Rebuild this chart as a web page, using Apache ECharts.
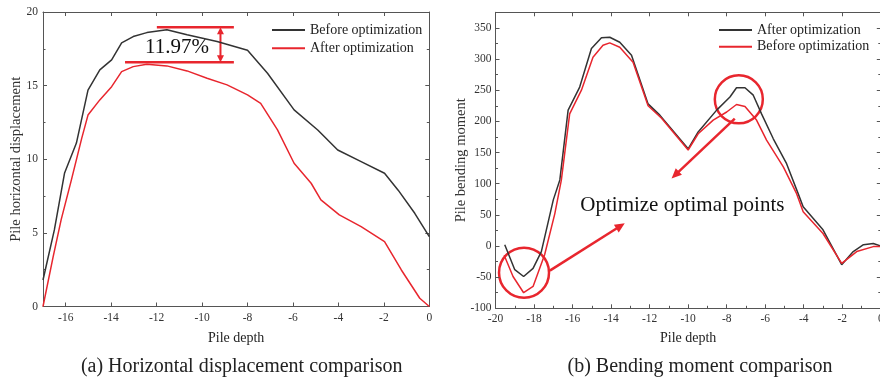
<!DOCTYPE html>
<html>
<head>
<meta charset="utf-8">
<script src="https://cdn.jsdelivr.net/npm/echarts@6/dist/echarts.min.js"></script>
<style>
html, body { margin: 0; padding: 0; background: #fff; }
#chartA { position: absolute; left: 0; top: 0; width: 440px; height: 381px; }
#chartB { position: absolute; left: 440px; top: 0; width: 440px; height: 381px; }
</style>
</head>
<body>
<div id="chartA"></div>
<div id="chartB"></div>
<script>
// (a) horizontal displacement
var depthBeforeA = [-17, -16.5, -16.05, -15.53, -15.02, -14.5, -13.98, -13.54, -13.03, -12.43, -11.55, -10.66, -9.34, -8.0, -7.12, -5.95, -4.91, -4.03, -3.0, -1.97, -1.37, -0.64, 0];
var dispBeforeA = [1.8, 5.2, 9.07, 11.1, 14.7, 16.07, 16.75, 17.9, 18.33, 18.6, 18.8, 18.45, 18.0, 17.4, 15.84, 13.35, 11.99, 10.63, 9.84, 9.05, 7.9, 6.33, 4.74];
var depthAfterA = [-17, -16.55, -16.2, -15.75, -15.3, -15.02, -14.5, -13.98, -13.54, -13.03, -12.43, -11.55, -10.66, -9.78, -8.9, -8.0, -7.42, -6.68, -5.95, -5.2, -4.77, -3.96, -3.0, -1.97, -1.23, -0.42, 0];
var dispAfterA = [0, 3.4, 5.9, 8.6, 11.4, 13.0, 14.03, 14.93, 15.95, 16.29, 16.45, 16.34, 16.0, 15.5, 15.05, 14.37, 13.8, 12.0, 9.73, 8.37, 7.24, 6.22, 5.42, 4.4, 2.48, 0.56, 0];
var xTicksA = [-16, -14, -12, -10, -8, -6, -4, -2, 0];

// (b) bending moment
var depthAfterB = [-19.52, -19.0, -18.54, -18.05, -17.62, -17.0, -16.66, -16.23, -15.63, -15.02, -14.5, -14.07, -13.55, -12.94, -12.08, -11.47, -10.0, -9.48, -8.52, -7.83, -7.49, -7.05, -6.62, -6.19, -5.58, -4.89, -4.29, -4.03, -3.0, -2.03, -1.43, -0.9, -0.39, 0];
var momentAfterB = [2, -38, -49, -36, -9, 74, 106, 218, 255, 317, 334, 335, 327, 306, 228, 210, 156, 183, 218, 239, 254, 254, 242, 212, 172, 132, 84, 63, 26, -30, -9, 2, 4, 0];
var depthBeforeB = [-19.55, -19.09, -18.54, -18.05, -17.45, -16.92, -16.58, -16.15, -15.54, -14.94, -14.42, -14.07, -13.55, -12.86, -12.08, -11.38, -10.0, -9.48, -8.7, -8.0, -7.49, -7.05, -6.45, -5.93, -5.06, -4.37, -4.03, -3.0, -2.03, -1.25, -0.39, 0];
var momentBeforeB = [-15, -49, -75, -65, -14, 52, 106, 212, 250, 303, 322, 326, 319, 295, 225, 205, 154, 180, 202, 215, 227, 224, 202, 170, 127, 84, 55, 20, -28, -9, -1, -1];

var SERIF = 'Liberation Serif';
var BLACK = '#333333';
var RED = '#e8262e';
var AXIS = '#555555';

function zip(xs, ys) {
  var out = [];
  for (var i = 0; i < xs.length; i++) out.push([xs[i], ys[i]]);
  return out;
}

function frameAxis(extra) {
  var base = {
    axisLine: { show: true, onZero: false, lineStyle: { color: AXIS, width: 1 } },
    axisTick: { show: true, inside: true, length: 4, lineStyle: { color: AXIS } },
    minorTick: { show: false },
    splitLine: { show: false },
    axisLabel: { show: false }
  };
  return Object.assign(base, extra);
}

var labelStyle = { show: true, fontFamily: SERIF, fontSize: 11.5, color: '#333' };

// arrow head polygon from p0 to p1 (pixels)
function arrowHead(p0, p1, len, half) {
  var dx = p1[0] - p0[0], dy = p1[1] - p0[1];
  var d = Math.sqrt(dx * dx + dy * dy);
  var ux = dx / d, uy = dy / d;
  var bx = p1[0] - ux * len, by = p1[1] - uy * len;
  return [[p1[0], p1[1]], [bx - uy * half, by + ux * half], [bx + uy * half, by - ux * half]];
}

// ---------- chart (a) ----------
var chartA = echarts.init(document.getElementById('chartA'));
chartA.setOption({
  animation: false,
  grid: { left: 43, right: 10.7, top: 12, bottom: 74.5, containLabel: false, outerBoundsMode: 'none' },
  legend: {
    orient: 'vertical', left: 267, top: 18, icon: 'rect', itemWidth: 33, itemHeight: 2, itemGap: 4.3,
    textStyle: { fontFamily: SERIF, fontSize: 14, color: '#222', lineHeight: 14 },
    data: ['Before optimization', 'After optimization']
  },
  xAxis: [
    frameAxis({
      type: 'value', position: 'bottom', min: -17, max: 0,
      axisTick: { show: true, inside: true, length: 4, lineStyle: { color: AXIS }, customValues: xTicksA },
      axisLabel: Object.assign({ margin: 5, customValues: xTicksA }, labelStyle),
      name: 'Pile depth', nameLocation: 'middle', nameGap: 25,
      nameTextStyle: { fontFamily: SERIF, fontSize: 14, color: '#222' }
    }),
    frameAxis({
      type: 'value', position: 'top', min: -17, max: 0,
      axisTick: { show: true, inside: true, length: 4, lineStyle: { color: AXIS }, customValues: xTicksA }
    })
  ],
  yAxis: [
    frameAxis({
      type: 'value', position: 'left', min: 0, max: 20, interval: 5,
      minorTick: { show: true, splitNumber: 2, length: 2.5, lineStyle: { color: AXIS } },
      axisLabel: Object.assign({ margin: 5 }, labelStyle),
      name: 'Pile horizontal displacement', nameLocation: 'middle', nameGap: 19, nameMoveOverlap: false,
      nameTextStyle: { fontFamily: SERIF, fontSize: 14.5, color: '#333' }
    }),
    frameAxis({
      type: 'value', position: 'right', min: 0, max: 20, interval: 5,
      minorTick: { show: true, splitNumber: 2, length: 2.5, lineStyle: { color: AXIS } }
    })
  ],
  series: [
    { name: 'Before optimization', type: 'line', symbol: 'none', color: BLACK, lineStyle: { width: 1.5 }, data: zip(depthBeforeA, dispBeforeA) },
    { name: 'After optimization', type: 'line', symbol: 'none', color: RED, lineStyle: { width: 1.5 }, data: zip(depthAfterA, dispAfterA) }
  ]
});

// ---------- chart (b) ----------
var chartB = echarts.init(document.getElementById('chartB'));
chartB.setOption({
  animation: false,
  grid: { left: 55.5, right: -0.8, top: 12.3, bottom: 72.7, containLabel: false, outerBoundsMode: 'none' },
  legend: {
    orient: 'vertical', left: 274, top: 18, icon: 'rect', itemWidth: 33, itemHeight: 2, itemGap: 2.7,
    textStyle: { fontFamily: SERIF, fontSize: 14, color: '#222', lineHeight: 14 },
    data: ['After optimization', 'Before optimization']
  },
  xAxis: [
    frameAxis({
      type: 'value', position: 'bottom', min: -20, max: 0, interval: 2,
      minorTick: { show: true, splitNumber: 2, length: 2.5, lineStyle: { color: AXIS } },
      axisLabel: Object.assign({ margin: 5 }, labelStyle),
      name: 'Pile depth', nameLocation: 'middle', nameGap: 23.5,
      nameTextStyle: { fontFamily: SERIF, fontSize: 14, color: '#222' }
    }),
    frameAxis({ type: 'value', position: 'top', min: -20, max: 0, interval: 2 })
  ],
  yAxis: [
    frameAxis({
      type: 'value', position: 'left', min: -100, max: 375, interval: 50,
      minorTick: { show: true, splitNumber: 2, length: 2.5, lineStyle: { color: AXIS } },
      axisLabel: Object.assign({ margin: 4, showMaxLabel: false }, labelStyle),
      name: 'Pile bending moment', nameLocation: 'middle', nameGap: 27, nameMoveOverlap: false,
      nameTextStyle: { fontFamily: SERIF, fontSize: 14.5, color: '#333' }
    }),
    frameAxis({
      type: 'value', position: 'right', min: -100, max: 375, interval: 50,
      minorTick: { show: true, splitNumber: 2, length: 2.5, lineStyle: { color: AXIS } }
    })
  ],
  series: [
    { name: 'After optimization', type: 'line', symbol: 'none', color: BLACK, lineStyle: { width: 1.5 }, data: zip(depthAfterB, momentAfterB) },
    { name: 'Before optimization', type: 'line', symbol: 'none', color: RED, lineStyle: { width: 1.5 }, data: zip(depthBeforeB, momentBeforeB) }
  ]
});

// ---------- annotations (given in data units, placed via the axes) ----------
function px(chart, p) { return chart.convertToPixel({ gridIndex: 0 }, p); }

var gapTopA = [[-11.99, 18.97], [-8.6, 18.97]];
var gapBottomA = [[-13.39, 16.59], [-8.6, 16.59]];
var gapArrowA = [[-9.19, 18.97], [-9.19, 16.59]];
var gapLabelA = [-11.1, 17.6];

var t0 = px(chartA, gapTopA[0]), t1 = px(chartA, gapTopA[1]);
var b0 = px(chartA, gapBottomA[0]), b1 = px(chartA, gapBottomA[1]);
var a0 = px(chartA, gapArrowA[0]), a1 = px(chartA, gapArrowA[1]);
var lab = px(chartA, gapLabelA);
var red = { stroke: RED, lineWidth: 2.5 };
chartA.setOption({
  graphic: [
    { type: 'line', shape: { x1: t0[0], y1: t0[1], x2: t1[0], y2: t1[1] }, style: red },
    { type: 'line', shape: { x1: b0[0], y1: b0[1], x2: b1[0], y2: b1[1] }, style: red },
    { type: 'line', shape: { x1: a0[0], y1: a0[1] + 6, x2: a1[0], y2: a1[1] - 6 }, style: { stroke: RED, lineWidth: 2 } },
    { type: 'polygon', shape: { points: arrowHead(a1, a0, 7, 3.5) }, style: { fill: RED } },
    { type: 'polygon', shape: { points: arrowHead(a0, a1, 7, 3.5) }, style: { fill: RED } },
    { type: 'text', x: lab[0], y: lab[1], style: { text: '11.97%', fontFamily: SERIF, fontSize: 21, fill: '#111', align: 'center', verticalAlign: 'middle' } },
    { type: 'text', x: 241.7, y: 367, style: { text: '(a) Horizontal displacement comparison', fontFamily: SERIF, fontSize: 20, fill: '#222', align: 'center', verticalAlign: 'middle' } }
  ]
});

var circlesB = [[-18.52, -42.8], [-7.37, 235.4]];
var circleRadiusB = [25, 24];
var arrowsB = [[[-17.18, -39.6], [-13.29, 36.4]], [[-7.58, 204.5], [-10.86, 108.4]]];
var noteB = [-10.3, 65.7];

var gB = [];
circlesB.forEach(function (c, i) {
  var p = px(chartB, c);
  gB.push({ type: 'circle', shape: { cx: p[0], cy: p[1], r: circleRadiusB[i] }, style: { fill: 'none', stroke: RED, lineWidth: 2.5 } });
});
arrowsB.forEach(function (a) {
  var p0 = px(chartB, a[0]), p1 = px(chartB, a[1]);
  var dx = p1[0] - p0[0], dy = p1[1] - p0[1], d = Math.sqrt(dx * dx + dy * dy);
  gB.push({ type: 'line', shape: { x1: p0[0], y1: p0[1], x2: p1[0] - dx / d * 7, y2: p1[1] - dy / d * 7 }, style: { stroke: RED, lineWidth: 2.5 } });
  gB.push({ type: 'polygon', shape: { points: arrowHead(p0, p1, 10, 4.5) }, style: { fill: RED } });
});
var nb = px(chartB, noteB);
gB.push({ type: 'text', x: nb[0], y: nb[1], style: { text: 'Optimize optimal points', fontFamily: SERIF, fontSize: 21, fill: '#111', align: 'center', verticalAlign: 'middle' } });
gB.push({ type: 'text', x: 260, y: 367, style: { text: '(b) Bending moment comparison', fontFamily: SERIF, fontSize: 20, fill: '#222', align: 'center', verticalAlign: 'middle' } });
chartB.setOption({ graphic: gB });
</script>
</body>
</html>
